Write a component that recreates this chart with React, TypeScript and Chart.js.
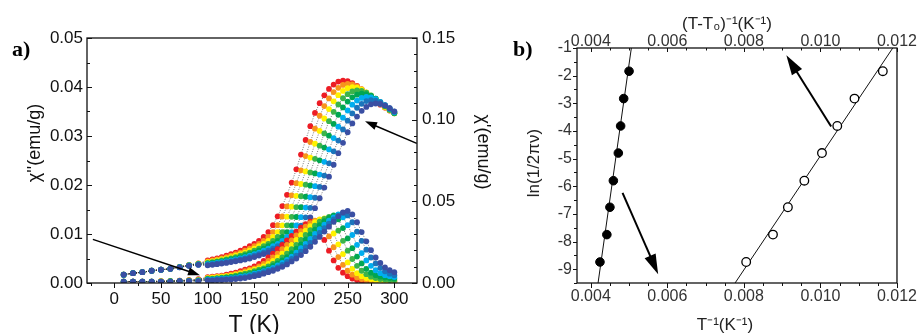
import React, { useEffect, useRef } from 'react';
import { Chart, registerables } from 'chart.js';

Chart.register(...registerables);

// ---------------- Panel a data ----------------
const TEMPERATURES = [
  10, 20, 30, 40, 50, 60, 70, 80, 90,
  100, 105, 110, 115, 120, 125, 130, 135, 140, 145, 150, 155, 160, 165, 170, 175, 180, 185, 190, 195,
  200, 205, 210, 215, 220, 225, 230, 235, 240, 245, 250, 255, 260, 265, 270, 275, 280, 285, 290, 295, 300,
];

const SERIES_COLORS = ['#ed1c24', '#f7941d', '#fff200', '#3cb44a', '#00a651', '#00aeef', '#1b75bb', '#3a4fa3'];

// chi' (right axis, emu/g), one array per frequency
const CHI_REAL_1 = [.0051, .0060, .0066, .0075, .0081, .0087, .0099, .0111, .0120,
  .0138, .0144, .0150, .0159, .0168, .0177, .0186, .0198, .0210, .0225, .0240, .0258, .0282, .0312, .0354, .0408, .0471, .0540, .0615, .0696,
  .0786, .0876, .0960, .1041, .1101, .1149, .1188, .1215, .1233, .1239, .1236, .1224, .1206, .1185, .1161, .1137, .1113, .1092, .1074, .1056, .1041];
const CHI_REAL_2 = [.0051, .0060, .0066, .0075, .0081, .0087, .0099, .0110, .0119,
  .0133, .0138, .0144, .0150, .0159, .0168, .0177, .0186, .0198, .0210, .0225, .0240, .0258, .0282, .0312, .0354, .0407, .0469, .0537, .0611,
  .0690, .0777, .0864, .0945, .1024, .1083, .1130, .1169, .1195, .1213, .1219, .1216, .1204, .1187, .1166, .1142, .1119, .1095, .1074, .1057, .1039];
const CHI_REAL_3 = [.0051, .0060, .0066, .0075, .0081, .0087, .0098, .0109, .0118,
  .0128, .0133, .0138, .0144, .0150, .0159, .0168, .0177, .0186, .0198, .0210, .0225, .0240, .0258, .0282, .0312, .0353, .0406, .0467, .0534,
  .0606, .0683, .0768, .0853, .0931, .1007, .1065, .1112, .1150, .1176, .1193, .1199, .1196, .1184, .1167, .1147, .1124, .1100, .1077, .1057, .1039];
const CHI_REAL_4 = [.0051, .0060, .0066, .0075, .0081, .0087, .0098, .0108, .0117,
  .0123, .0128, .0133, .0138, .0144, .0150, .0159, .0168, .0177, .0186, .0198, .0210, .0225, .0240, .0258, .0282, .0312, .0353, .0405, .0465,
  .0531, .0602, .0677, .0760, .0841, .0916, .0991, .1048, .1093, .1131, .1156, .1173, .1179, .1176, .1165, .1148, .1128, .1105, .1082, .1059, .1039];
const CHI_REAL_5 = [.0051, .0060, .0066, .0075, .0081, .0087, .0097, .0108, .0116,
  .0119, .0123, .0128, .0133, .0138, .0144, .0150, .0159, .0168, .0177, .0186, .0198, .0210, .0225, .0240, .0258, .0282, .0312, .0352, .0404,
  .0464, .0528, .0597, .0671, .0751, .0829, .0902, .0974, .1030, .1075, .1111, .1137, .1153, .1159, .1156, .1145, .1128, .1108, .1086, .1064, .1041];
const CHI_REAL_6 = [.0051, .0060, .0066, .0075, .0081, .0087, .0097, .0107, .0114,
  .0115, .0119, .0123, .0128, .0133, .0138, .0144, .0150, .0159, .0168, .0177, .0186, .0198, .0210, .0225, .0240, .0258, .0282, .0312, .0352,
  .0403, .0462, .0525, .0593, .0664, .0742, .0818, .0887, .0957, .1012, .1056, .1092, .1117, .1133, .1139, .1136, .1125, .1109, .1089, .1067, .1045];
const CHI_REAL_7 = [.0051, .0060, .0066, .0075, .0081, .0087, .0096, .0106, .0112,
  .0111, .0115, .0119, .0123, .0128, .0133, .0138, .0144, .0150, .0159, .0168, .0177, .0186, .0198, .0210, .0225, .0240, .0258, .0282, .0312,
  .0351, .0402, .0460, .0522, .0588, .0658, .0733, .0806, .0872, .0940, .0994, .1038, .1073, .1097, .1114, .1119, .1116, .1105, .1089, .1070, .1049];
const CHI_REAL_8 = [.0051, .0060, .0066, .0075, .0081, .0087, .0096, .0105, .0111,
  .0108, .0111, .0115, .0119, .0123, .0128, .0133, .0138, .0144, .0150, .0159, .0168, .0177, .0186, .0198, .0210, .0225, .0240, .0258, .0282,
  .0312, .0351, .0401, .0458, .0519, .0584, .0651, .0724, .0795, .0858, .0923, .0977, .1019, .1054, .1078, .1094, .1099, .1096, .1086, .1070, .1051];

// chi'' (left axis, emu/g)
const CHI_IMAG_1 = [.0003, .0003, .0003, .0003, .0004, .0004, .0005, .0006, .0008,
  .0012, .0013, .0014, .0015, .0017, .0019, .0021, .0024, .0027, .0030, .0034, .0039, .0045, .0052, .0060, .0069, .0078, .0087, .0096, .0105,
  .0113, .0120, .0125, .0126, .0112, .0088, .0066, .0046, .0031, .0021, .0014, .0009, .0006, .0004, .0003, .0003, .0002, .0002, .0002, .0002, .0002];
const CHI_IMAG_2 = [.0003, .0003, .0003, .0003, .0004, .0004, .0005, .0006, .0007,
  .0011, .0012, .0013, .0014, .0015, .0017, .0019, .0021, .0024, .0027, .0030, .0034, .0039, .0045, .0052, .0060, .0069, .0078, .0087, .0097,
  .0106, .0115, .0122, .0127, .0129, .0117, .0095, .0073, .0053, .0037, .0025, .0017, .0011, .0008, .0006, .0005, .0004, .0004, .0003, .0003, .0003];
const CHI_IMAG_3 = [.0003, .0003, .0003, .0003, .0004, .0004, .0004, .0005, .0006,
  .0010, .0011, .0012, .0013, .0014, .0015, .0017, .0019, .0021, .0024, .0027, .0030, .0034, .0039, .0045, .0052, .0060, .0069, .0078, .0088,
  .0098, .0107, .0116, .0124, .0130, .0132, .0121, .0101, .0079, .0059, .0042, .0029, .0020, .0014, .0010, .0008, .0006, .0005, .0005, .0004, .0004];
const CHI_IMAG_4 = [.0003, .0003, .0003, .0003, .0003, .0004, .0004, .0005, .0006,
  .0009, .0009, .0010, .0011, .0012, .0013, .0015, .0017, .0019, .0021, .0024, .0027, .0030, .0034, .0039, .0045, .0052, .0060, .0069, .0078,
  .0088, .0098, .0108, .0117, .0125, .0131, .0135, .0126, .0107, .0086, .0066, .0049, .0035, .0025, .0018, .0013, .0010, .0008, .0007, .0006, .0006];
const CHI_IMAG_5 = [.0003, .0003, .0003, .0003, .0003, .0004, .0004, .0005, .0005,
  .0008, .0008, .0009, .0010, .0011, .0012, .0013, .0015, .0016, .0018, .0021, .0024, .0027, .0030, .0035, .0040, .0046, .0053, .0061, .0070,
  .0079, .0089, .0099, .0109, .0118, .0126, .0133, .0138, .0130, .0112, .0091, .0071, .0054, .0040, .0029, .0021, .0016, .0013, .0011, .0010, .0009];
const CHI_IMAG_6 = [.0003, .0003, .0003, .0003, .0003, .0003, .0004, .0004, .0005,
  .0007, .0007, .0008, .0009, .0009, .0010, .0011, .0013, .0014, .0016, .0019, .0021, .0024, .0027, .0031, .0036, .0041, .0047, .0054, .0062,
  .0071, .0080, .0090, .0100, .0110, .0119, .0127, .0134, .0140, .0134, .0118, .0098, .0078, .0061, .0046, .0035, .0026, .0020, .0016, .0014, .0012];
const CHI_IMAG_7 = [.0003, .0003, .0003, .0003, .0003, .0003, .0004, .0004, .0004,
  .0006, .0006, .0007, .0008, .0008, .0009, .0010, .0011, .0012, .0014, .0017, .0019, .0022, .0025, .0028, .0032, .0037, .0043, .0049, .0056,
  .0064, .0073, .0082, .0092, .0102, .0112, .0121, .0130, .0137, .0143, .0138, .0124, .0105, .0086, .0068, .0052, .0040, .0031, .0024, .0019, .0016];
const CHI_IMAG_8 = [.0003, .0003, .0003, .0003, .0003, .0003, .0004, .0004, .0004,
  .0005, .0005, .0006, .0006, .0007, .0007, .0008, .0009, .0010, .0012, .0014, .0016, .0019, .0022, .0025, .0029, .0033, .0038, .0044, .0050,
  .0057, .0065, .0074, .0084, .0094, .0105, .0115, .0125, .0136, .0144, .0147, .0140, .0124, .0104, .0085, .0067, .0052, .0041, .0032, .0026, .0022];

const CHI_REAL_SERIES = [CHI_REAL_1, CHI_REAL_2, CHI_REAL_3, CHI_REAL_4, CHI_REAL_5, CHI_REAL_6, CHI_REAL_7, CHI_REAL_8];
const CHI_IMAG_SERIES = [CHI_IMAG_1, CHI_IMAG_2, CHI_IMAG_3, CHI_IMAG_4, CHI_IMAG_5, CHI_IMAG_6, CHI_IMAG_7, CHI_IMAG_8];

const A_X_TICKS = [0, 50, 100, 150, 200, 250, 300];
const A_Y_TICKS = [0, 0.01, 0.02, 0.03, 0.04, 0.05];
const A_YR_TICKS = [0, 0.05, 0.1, 0.15];

// ---------------- Panel b data ----------------
const FILLED_INV_T = [0.00500, 0.00486, 0.00478, 0.00472, 0.00459, 0.00450, 0.00442, 0.00424];
const FILLED_LN = [-1.84, -2.83, -3.82, -4.80, -5.80, -6.76, -7.75, -8.74];
const OPEN_INV_T_T0 = [0.01163, 0.01089, 0.01044, 0.01004, 0.00958, 0.00915, 0.00876, 0.00806];
const OPEN_LN = [-1.84, -2.83, -3.82, -4.80, -5.80, -6.76, -7.75, -8.74];
const FIT_FILLED_X = [0.00419, 0.00506];
const FIT_FILLED_Y = [-9.5, -1];
const FIT_OPEN_X = [0.00777, 0.01189];
const FIT_OPEN_Y = [-9.5, -1];

const B_X_TICKS = [0.004, 0.006, 0.008, 0.010, 0.012];
const B_Y_TICKS = [-1, -2, -3, -4, -5, -6, -7, -8, -9];

const SANS = '"Liberation Sans", Arial, sans-serif';
const SERIF = '"Liberation Serif", "Times New Roman", serif';

const decorPlugin = {
  id: 'decor',
  afterDraw(chart: any, _args: any, opts: any) {
    const ctx = chart.ctx;
    const ca = chart.chartArea;
    ctx.save();
    ctx.strokeStyle = opts.frameColor || '#111';
    ctx.lineWidth = opts.frameWidth || 1.2;
    ctx.strokeRect(ca.left, ca.top, ca.right - ca.left, ca.bottom - ca.top);
    ctx.lineWidth = 1;
    for (const t of opts.ticks || []) {
      const sc = chart.scales[t.scale];
      const n0 = Math.ceil(sc.min / t.minor - 1e-6);
      const n1 = Math.floor(sc.max / t.minor + 1e-6);
      for (let n = n0; n <= n1; n++) {
        const v = n * t.minor;
        const r = v / t.major;
        const isMajor = Math.abs(r - Math.round(r)) < 1e-6;
        const len = (isMajor ? t.majorLen : t.minorLen) * (t.dir === 'in' ? 1 : -1);
        const p = Math.round(sc.getPixelForValue(v)) + 0.5;
        ctx.beginPath();
        if (t.side === 'left') { ctx.moveTo(ca.left, p); ctx.lineTo(ca.left + len, p); }
        else if (t.side === 'right') { ctx.moveTo(ca.right, p); ctx.lineTo(ca.right - len, p); }
        else if (t.side === 'bottom') { ctx.moveTo(p, ca.bottom); ctx.lineTo(p, ca.bottom - len); }
        else { ctx.moveTo(p, ca.top); ctx.lineTo(p, ca.top + len); }
        ctx.stroke();
      }
    }
    for (const a of opts.arrows || []) {
      const xs = chart.scales[a.x];
      const ys = chart.scales[a.y];
      const x0 = xs.getPixelForValue(a.from[0]);
      const y0 = ys.getPixelForValue(a.from[1]);
      const x1 = xs.getPixelForValue(a.to[0]);
      const y1 = ys.getPixelForValue(a.to[1]);
      const ang = Math.atan2(y1 - y0, x1 - x0);
      const c = Math.cos(ang);
      const s = Math.sin(ang);
      const bx = x1 - a.headLen * c;
      const by = y1 - a.headLen * s;
      ctx.strokeStyle = '#000';
      ctx.fillStyle = '#000';
      ctx.lineWidth = a.lineWidth;
      ctx.beginPath();
      ctx.moveTo(x0, y0);
      ctx.lineTo(bx + 2 * c, by + 2 * s);
      ctx.stroke();
      ctx.beginPath();
      ctx.moveTo(x1, y1);
      ctx.lineTo(bx + a.headHalf * s, by - a.headHalf * c);
      ctx.lineTo(bx - a.headHalf * s, by + a.headHalf * c);
      ctx.closePath();
      ctx.fill();
    }
    for (const t of opts.texts || []) {
      ctx.save();
      ctx.translate(t.x, t.y);
      ctx.rotate(t.rot || 0);
      ctx.font = t.font;
      ctx.fillStyle = t.color || '#111';
      ctx.textAlign = t.align || 'center';
      ctx.textBaseline = t.baseline || 'middle';
      ctx.fillText(t.text, 0, 0);
      ctx.restore();
    }
    ctx.restore();
  },
};

function fixedTicks(values: number[]) {
  return (s: any) => {
    s.ticks = values.map((v) => ({ value: v }));
  };
}

function dotDataset(vals: number[], color: string, axis: string) {
  return {
    data: TEMPERATURES.map((t, i) => ({ x: t, y: vals[i] })),
    yAxisID: axis,
    showLine: true,
    borderColor: 'rgba(40,40,40,0.8)',
    borderWidth: 0.8,
    borderDash: [1, 1.5],
    pointRadius: 2.9,
    pointBorderWidth: 0,
    pointBackgroundColor: color,
  };
}

function buildConfigA(): any {
  // Chart.js paints dataset 0 last (on top): list the top-most layer first.
  const datasets: any[] = [];
  for (let k = CHI_IMAG_SERIES.length - 1; k >= 0; k--) {
    datasets.push(dotDataset(CHI_IMAG_SERIES[k], SERIES_COLORS[k], 'y'));
  }
  for (let k = CHI_REAL_SERIES.length - 1; k >= 0; k--) {
    datasets.push(dotDataset(CHI_REAL_SERIES[k], SERIES_COLORS[k], 'yR'));
  }
  const tickFont = { family: SANS, size: 17 };
  return {
    type: 'scatter',
    data: { datasets },
    options: {
      responsive: false,
      animation: false,
      devicePixelRatio: 1,
      layout: { padding: { top: 38, left: 0, right: 0, bottom: 0 } },
      plugins: {
        legend: { display: false },
        tooltip: { enabled: false },
        decor: {
          frameWidth: 1.3,
          ticks: [
            { scale: 'x', side: 'bottom', major: 50, minor: 25, majorLen: 5, minorLen: 3, dir: 'out' },
            { scale: 'y', side: 'left', major: 0.01, minor: 0.005, majorLen: 5, minorLen: 3, dir: 'in' },
            { scale: 'yR', side: 'right', major: 0.05, minor: 0.01, majorLen: 5, minorLen: 3, dir: 'in' },
          ],
          arrows: [
            { x: 'x', y: 'y', from: [324, 0.0285], to: [268.6, 0.0330], headLen: 12, headHalf: 4, lineWidth: 1.5 },
            { x: 'x', y: 'y', from: [-23, 0.0089], to: [91.8, 0.0016], headLen: 12, headHalf: 4, lineWidth: 1.5 },
          ],
          texts: [
            { text: 'a)', x: 12, y: 56, font: `bold 22px ${SERIF}`, align: 'left', baseline: 'alphabetic', color: '#000' },
            { text: "χ''(emu/g)", x: 35, y: 143, rot: -Math.PI / 2, font: `18px ${SANS}` },
            { text: "χ'(emu/g)", x: 483, y: 152, rot: Math.PI / 2, font: `18px ${SANS}` },
            { text: 'T (K)', x: 254, y: 332, font: `23px ${SANS}`, baseline: 'alphabetic' },
          ],
        },
      },
      scales: {
        x: {
          type: 'linear', position: 'bottom', min: -29.3, max: 324.3,
          grid: { display: false, drawTicks: false }, border: { display: false },
          ticks: { padding: 6, font: tickFont, color: '#111', autoSkip: false, maxRotation: 0 },
          afterBuildTicks: fixedTicks(A_X_TICKS),
          afterFit: (s: any) => { s.height = 51; },
        },
        y: {
          type: 'linear', position: 'left', min: 0, max: 0.05,
          grid: { display: false, drawTicks: false }, border: { display: false },
          ticks: { padding: 4, font: tickFont, color: '#111', autoSkip: false, callback: (v: any) => Number(v).toFixed(2) },
          afterBuildTicks: fixedTicks(A_Y_TICKS),
          afterFit: (s: any) => { s.width = 87; },
        },
        yR: {
          type: 'linear', position: 'right', min: 0, max: 0.15,
          grid: { display: false, drawTicks: false }, border: { display: false },
          ticks: { padding: 5, font: tickFont, color: '#111', autoSkip: false, callback: (v: any) => Number(v).toFixed(2) },
          afterBuildTicks: fixedTicks(A_YR_TICKS),
          afterFit: (s: any) => { s.width = 88; },
        },
      },
    },
    plugins: [decorPlugin],
  };
}

function buildConfigB(): any {
  const tickFont = { family: SANS, size: 16 };
  const datasets: any[] = [
    {
      data: FILLED_INV_T.map((x, i) => ({ x, y: FILLED_LN[i] })),
      xAxisID: 'x', showLine: false, pointRadius: 4.3, pointBackgroundColor: '#000', pointBorderColor: '#000', pointBorderWidth: 1,
    },
    {
      data: OPEN_INV_T_T0.map((x, i) => ({ x, y: OPEN_LN[i] })),
      xAxisID: 'x2', showLine: false, pointRadius: 4.3, pointBackgroundColor: '#fff', pointBorderColor: '#000', pointBorderWidth: 1.3,
    },
    {
      data: FIT_FILLED_X.map((x, i) => ({ x, y: FIT_FILLED_Y[i] })),
      xAxisID: 'x', showLine: true, borderColor: '#111', borderWidth: 1, pointRadius: 0,
    },
    {
      data: FIT_OPEN_X.map((x, i) => ({ x, y: FIT_OPEN_Y[i] })),
      xAxisID: 'x2', showLine: true, borderColor: '#111', borderWidth: 1, pointRadius: 0,
    },
  ];
  return {
    type: 'scatter',
    data: { datasets },
    options: {
      responsive: false,
      animation: false,
      devicePixelRatio: 1,
      layout: { padding: { top: 0, left: 0, right: 23, bottom: 0 } },
      plugins: {
        legend: { display: false },
        tooltip: { enabled: false },
        decor: {
          frameWidth: 1.3,
          ticks: [
            { scale: 'x', side: 'bottom', major: 0.002, minor: 0.0005, majorLen: 5, minorLen: 3, dir: 'out' },
            { scale: 'x2', side: 'top', major: 0.002, minor: 0.0005, majorLen: 4, minorLen: 2.5, dir: 'in' },
            { scale: 'y', side: 'left', major: 1, minor: 0.5, majorLen: 4, minorLen: 3, dir: 'out' },
          ],
          arrows: [
            { x: 'x', y: 'y', from: [0.01028, -3.84], to: [0.00911, -1.26], headLen: 20, headHalf: 6, lineWidth: 2 },
            { x: 'x', y: 'y', from: [0.00483, -6.24], to: [0.00576, -9.18], headLen: 20, headHalf: 6, lineWidth: 2 },
          ],
          texts: [
            { text: 'b)', x: 8, y: 56, font: `bold 22px ${SERIF}`, align: 'left', baseline: 'alphabetic', color: '#000' },
            { text: '(T-T₀)⁻¹(K⁻¹)', x: 222, y: 24, font: `17px ${SANS}`, color: '#222' },
            { text: 'T⁻¹(K⁻¹)', x: 220, y: 325, font: `17px ${SANS}`, color: '#222' },
            { text: 'ln(1/2πν)', x: 29, y: 163, rot: -Math.PI / 2, font: `17px ${SANS}`, color: '#222' },
          ],
        },
      },
      scales: {
        x: {
          type: 'linear', position: 'bottom', min: 0.00364, max: 0.012,
          grid: { display: false, drawTicks: false }, border: { display: false },
          ticks: { padding: 4, font: tickFont, color: '#333', autoSkip: false, maxRotation: 0, callback: (v: any) => Number(v).toFixed(3) },
          afterBuildTicks: fixedTicks(B_X_TICKS),
          afterFit: (s: any) => { s.height = 51; },
        },
        x2: {
          type: 'linear', position: 'top', min: 0.00364, max: 0.012,
          grid: { display: false, drawTicks: false }, border: { display: false },
          ticks: { padding: -3, font: tickFont, color: '#333', autoSkip: false, maxRotation: 0, callback: (v: any) => Number(v).toFixed(3) },
          afterBuildTicks: fixedTicks(B_X_TICKS),
          afterFit: (s: any) => { s.height = 48; },
        },
        y: {
          type: 'linear', position: 'left', min: -9.5, max: -1,
          grid: { display: false, drawTicks: false }, border: { display: false },
          ticks: { padding: 5, font: tickFont, color: '#333', autoSkip: false, callback: (v: any) => String(v) },
          afterBuildTicks: fixedTicks(B_Y_TICKS),
          afterFit: (s: any) => { s.width = 72; },
        },
      },
    },
    plugins: [decorPlugin],
  };
}

function ChartCanvas({ build, left, width }: { build: () => any; left: number; width: number }) {
  const ref = useRef<HTMLCanvasElement>(null);
  useEffect(() => {
    const chart = new Chart(ref.current as HTMLCanvasElement, build());
    return () => chart.destroy();
  }, []);
  return (
    <canvas
      ref={ref}
      width={width}
      height={334}
      style={{ position: 'absolute', left, top: 0, width, height: 334 }}
    />
  );
}

export default function App() {
  return (
    <div style={{ position: 'fixed', left: 0, top: 0, width: 921, height: 334, background: '#fff', overflow: 'hidden' }}>
      <ChartCanvas build={buildConfigA} left={0} width={505} />
      <ChartCanvas build={buildConfigB} left={505} width={416} />
    </div>
  );
}
